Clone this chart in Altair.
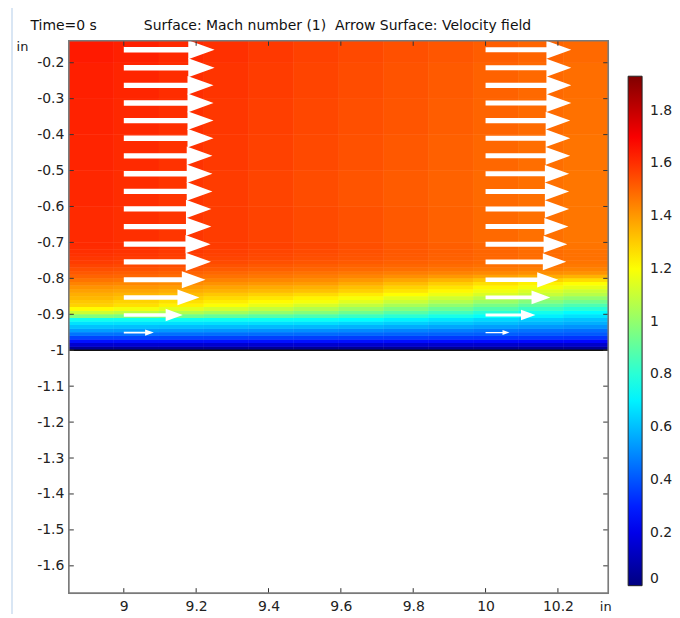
import altair as alt
import pandas as pd

# ---------------- data ----------------
x_edges = [8.848, 8.972, 9.097, 9.221, 9.345, 9.469, 9.594, 9.718, 9.842,
           9.966, 10.091, 10.215, 10.339]
y_edges = [-1.00, -0.99, -0.98, -0.97, -0.96, -0.95, -0.94, -0.93, -0.92, -0.91,
           -0.90, -0.89, -0.88, -0.87, -0.86, -0.85, -0.84, -0.83, -0.82, -0.81,
           -0.80, -0.79, -0.78, -0.77, -0.76, -0.75, -0.74, -0.73, -0.72, -0.71,
           -0.70, -0.60, -0.50, -0.40, -0.30, -0.20, -0.139]
# Mach number per cell, rows from the wall (bottom) upward, columns left -> right
mach_rows = [
    [.03, .03, .03, .03, .03, .03, .03, .03, .03, .03, .03, .03],
    [.15, .15, .15, .15, .15, .15, .149, .147, .145, .143, .141, .14],
    [.27, .27, .27, .27, .27, .27, .267, .264, .26, .256, .253, .25],
    [.37, .369, .367, .365, .363, .361, .357, .354, .35, .346, .343, .34],
    [.46, .457, .453, .449, .445, .441, .436, .431, .425, .42, .414, .41],
    [.54, .536, .53, .524, .518, .512, .502, .491, .481, .469, .458, .45],
    [.61, .607, .603, .599, .595, .591, .581, .568, .556, .542, .53, .52],
    [.67, .669, .667, .665, .663, .661, .648, .632, .616, .599, .583, .57],
    [.75, .749, .747, .745, .743, .741, .723, .70, .676, .652, .628, .61],
    [.97, .954, .932, .911, .889, .867, .835, .801, .767, .731, .697, .67],
    [1.11, 1.089, 1.061, 1.034, 1.006, .978, .938, .893, .848, .80, .755, .72],
    [1.21, 1.186, 1.154, 1.124, 1.092, 1.06, 1.018, .973, .928, .88, .835, .80],
    [1.29, 1.265, 1.231, 1.198, 1.164, 1.13, 1.088, 1.043, .998, .95, .905, .87],
    [1.31, 1.29, 1.265, 1.24, 1.214, 1.188, 1.149, 1.106, 1.062, 1.017, .974, .94],
    [1.34, 1.322, 1.298, 1.275, 1.251, 1.227, 1.191, 1.152, 1.112, 1.07, 1.031, 1.00],
    [1.36, 1.347, 1.329, 1.311, 1.293, 1.275, 1.244, 1.208, 1.172, 1.134, 1.098, 1.07],
    [1.385, 1.375, 1.362, 1.35, 1.337, 1.324, 1.293, 1.255, 1.217, 1.177, 1.139, 1.11],
    [1.41, 1.401, 1.389, 1.378, 1.366, 1.354, 1.325, 1.291, 1.257, 1.221, 1.187, 1.16],
    [1.44, 1.433, 1.423, 1.413, 1.403, 1.393, 1.366, 1.333, 1.299, 1.264, 1.231, 1.205],
    [1.47, 1.463, 1.453, 1.443, 1.433, 1.423, 1.401, 1.374, 1.347, 1.318, 1.291, 1.27],
    [1.50, 1.493, 1.483, 1.473, 1.463, 1.453, 1.437, 1.419, 1.401, 1.382, 1.364, 1.35],
    [1.52, 1.513, 1.503, 1.493, 1.483, 1.473, 1.462, 1.451, 1.441, 1.429, 1.418, 1.41],
    [1.54, 1.533, 1.524, 1.516, 1.507, 1.498, 1.488, 1.478, 1.468, 1.458, 1.448, 1.44],
    [1.56, 1.553, 1.543, 1.533, 1.523, 1.513, 1.504, 1.495, 1.486, 1.476, 1.467, 1.46],
    [1.575, 1.568, 1.558, 1.548, 1.538, 1.528, 1.518, 1.508, 1.498, 1.488, 1.478, 1.47],
    [1.585, 1.578, 1.568, 1.558, 1.548, 1.538, 1.527, 1.516, 1.506, 1.494, 1.483, 1.475],
    [1.595, 1.587, 1.576, 1.565, 1.554, 1.543, 1.532, 1.52, 1.508, 1.496, 1.484, 1.475],
    [1.60, 1.592, 1.581, 1.57, 1.559, 1.548, 1.536, 1.523, 1.511, 1.497, 1.485, 1.475],
    [1.605, 1.597, 1.586, 1.575, 1.564, 1.553, 1.54, 1.525, 1.511, 1.496, 1.481, 1.47],
    [1.61, 1.601, 1.589, 1.578, 1.566, 1.554, 1.54, 1.525, 1.511, 1.496, 1.481, 1.47],
    [1.61, 1.60, 1.587, 1.575, 1.562, 1.549, 1.535, 1.52, 1.506, 1.491, 1.476, 1.465],
    [1.615, 1.604, 1.589, 1.575, 1.56, 1.545, 1.53, 1.517, 1.503, 1.489, 1.476, 1.465],
    [1.62, 1.609, 1.594, 1.58, 1.565, 1.55, 1.535, 1.522, 1.508, 1.494, 1.481, 1.47],
    [1.625, 1.614, 1.599, 1.585, 1.57, 1.555, 1.54, 1.527, 1.513, 1.499, 1.486, 1.475],
    [1.63, 1.619, 1.604, 1.59, 1.575, 1.56, 1.545, 1.532, 1.518, 1.504, 1.491, 1.48],
    [1.64, 1.628, 1.612, 1.597, 1.581, 1.565, 1.551, 1.538, 1.526, 1.512, 1.50, 1.49],
]

arrow_x0 = [9.0, 10.0]
arrow_y = [-0.951, -0.902, -0.853, -0.804, -0.754, -0.705, -0.656, -0.607, -0.558,
           -0.509, -0.459, -0.410, -0.361, -0.312, -0.263, -0.214, -0.164]
arrow_len_left = [0.083, 0.163, 0.209, 0.226, 0.241, 0.240, 0.242, 0.242, 0.245,
                  0.245, 0.245, 0.248, 0.248, 0.248, 0.248, 0.251, 0.251]
arrow_len_right = [0.066, 0.138, 0.179, 0.201, 0.223, 0.226, 0.229, 0.231, 0.231,
                   0.231, 0.234, 0.234, 0.234, 0.237, 0.237, 0.237, 0.237]

wall_y = [-1.0]
x_ticks = [9.0, 9.2, 9.4, 9.6, 9.8, 10.0, 10.2]
y_ticks = [-0.2, -0.3, -0.4, -0.5, -0.6, -0.7, -0.8, -0.9, -1.0, -1.1, -1.2,
           -1.3, -1.4, -1.5, -1.6]
cbar_ticks = [0, 0.2, 0.4, 0.6, 0.8, 1.0, 1.2, 1.4, 1.6, 1.8]
x_domain = [8.848, 10.339]
y_domain = [-1.676, -0.139]
mach_range = [0.0, 1.93]
title_text = ["Surface: Mach number (1)\u00a0 Arrow Surface: Velocity field"]
time_text = ["Time=0 s"]

# ---------------- layout / style ----------------
W, H = 541, 554
FONT = "DejaVu Sans"
FS = 14
px_per_in = W / (x_domain[1] - x_domain[0])

jet_stops = [mach_range[0] + f * (mach_range[1] - mach_range[0])
             for f in (0.0, 0.125, 0.375, 0.625, 0.875, 1.0)]
jet_colors = ["#000080", "#0000ff", "#00ffff", "#ffff00", "#ff0000", "#800000"]

# ---------------- tables ----------------
cells = []
for j, row in enumerate(mach_rows):
    for i, m in enumerate(row):
        cells.append({"x0": x_edges[i], "x1": x_edges[i + 1],
                      "y0": y_edges[j], "y1": y_edges[j + 1], "mach": m})
cells = pd.DataFrame(cells)

arrows = []
for x0, lens in zip(arrow_x0, [arrow_len_left, arrow_len_right]):
    for y, L in zip(arrow_y, lens):
        arrows.append({"xc": x0 + L / 2, "y": y, "s": (L * px_per_in) ** 2})
arrows = pd.DataFrame(arrows)

xt = pd.DataFrame({"v": x_ticks})
yt = pd.DataFrame({"v": y_ticks})
wall = pd.DataFrame({"y": wall_y, "xa": [x_domain[0]], "xb": [x_domain[1]]})
one = pd.DataFrame({"t": time_text})
ttl = pd.DataFrame({"t": title_text})

xs = alt.Scale(domain=x_domain, nice=False, zero=False)
ys = alt.Scale(domain=y_domain, nice=False, zero=False)
cs = alt.Scale(domain=jet_stops, range=jet_colors, interpolate="rgb")

lab_expr = "replace(format(datum.value, '.1~f'), '\u2212', '-')"

x_axis = alt.Axis(values=x_ticks, ticks=False, domain=False, grid=False,
                  labelPadding=6, labelFont=FONT, labelFontSize=FS,
                  labelColor="#222", labelExpr=lab_expr, labelOverlap=False,
                  labelFlush=False, title="in", titleX=538, titleY=13,
                  titleAngle=0, titleAlign="center", titleBaseline="middle",
                  titleFont=FONT, titleFontSize=FS - 1, titleFontWeight="normal",
                  titleColor="#222")
y_axis = alt.Axis(values=y_ticks, ticks=False, domain=False, grid=False,
                  labelPadding=5, labelFont=FONT, labelFontSize=FS,
                  labelColor="#222", labelExpr=lab_expr, labelOverlap=False,
                  labelFlush=False, title="in", titleX=-47, titleY=6,
                  titleAngle=0, titleAlign="center", titleBaseline="middle",
                  titleFont=FONT, titleFontSize=FS - 1, titleFontWeight="normal",
                  titleColor="#222")

legend = alt.Legend(
    type="gradient", orient="none", legendX=561, legendY=35.5,
    direction="vertical", gradientLength=511, gradientThickness=14,
    values=cbar_ticks, title=None, labelFont=FONT, labelFontSize=FS,
    labelColor="#222", labelOffset=8, labelOverlap=False, labelExpr=lab_expr,
    gradientStrokeColor="#222", gradientStrokeWidth=1)

field_base = alt.Chart(cells).mark_rect(clip=True).encode(
    x=alt.X("x0:Q", scale=xs, axis=x_axis),
    x2="x1:Q",
    y=alt.Y("y0:Q", scale=ys, axis=y_axis),
    y2="y1:Q",
    color=alt.Color("mach:Q", scale=cs, legend=legend),
)
# drawn twice so that anti-aliasing seams between adjacent cells disappear
field = field_base + field_base

wall_line = alt.Chart(wall).mark_rule(color="#111", strokeWidth=1.6).encode(
    x=alt.X("xa:Q", scale=xs, axis=x_axis), x2="xb:Q",
    y=alt.Y("y:Q", scale=ys, axis=y_axis))

ARROW = "M-1,-0.06L0.42,-0.06L0.42,-0.21L1,0L0.42,0.21L0.42,0.06L-1,0.06Z"
arrow_layer = alt.Chart(arrows).mark_point(
    shape=ARROW, filled=True, color="white", opacity=1, strokeWidth=0).encode(
    x=alt.X("xc:Q", scale=xs, axis=x_axis),
    y=alt.Y("y:Q", scale=ys, axis=y_axis),
    size=alt.Size("s:Q", scale=None, legend=None))

TC = "#333"
tick_b = alt.Chart(xt).mark_rule(color=TC, strokeWidth=1).encode(
    x=alt.X("v:Q", scale=xs, axis=x_axis), y=alt.value(H), y2=alt.value(H - 5))
tick_t = alt.Chart(xt).mark_rule(color=TC, strokeWidth=1).encode(
    x=alt.X("v:Q", scale=xs, axis=x_axis), y=alt.value(0), y2=alt.value(5))
tick_l = alt.Chart(yt).mark_rule(color=TC, strokeWidth=1).encode(
    y=alt.Y("v:Q", scale=ys, axis=y_axis), x=alt.value(0), x2=alt.value(5))
tick_r = alt.Chart(yt).mark_rule(color=TC, strokeWidth=1).encode(
    y=alt.Y("v:Q", scale=ys, axis=y_axis), x=alt.value(W), x2=alt.value(W - 5))

frame = alt.Chart(one).mark_rect(fill="transparent", stroke="#7a7a7a",
                                 strokeWidth=1.6).encode(
    x=alt.value(0), x2=alt.value(W), y=alt.value(0), y2=alt.value(H))

time_txt = alt.Chart(one).mark_text(align="left", baseline="middle",
                                    font=FONT, fontSize=FS, color="#111").encode(
    text="t:N", x=alt.value(30.5 - 69), y=alt.value(25 - 40))

title_txt = alt.Chart(ttl).mark_text(align="center", baseline="middle",
                                     font=FONT, fontSize=FS, color="#111").encode(
    text="t:N", x=alt.value(338.5 - 69), y=alt.value(25 - 40))

side_line = alt.Chart(one).mark_rule(color="#d9e6f4", strokeWidth=2).encode(
    x=alt.value(12 - 69), y=alt.value(7 - 40), y2=alt.value(620 - 40))

chart = alt.layer(
    field, wall_line, arrow_layer, tick_b, tick_t, tick_l, tick_r, frame,
    time_txt, title_txt, side_line,
).properties(
    width=W, height=H,
    padding={"left": 61, "top": 32, "right": 64, "bottom": 20},
    autosize=alt.AutoSizeParams(type="none"),
).configure_view(strokeWidth=0).configure(background="white")

chart.save("out.html", embed_options={"renderer": "svg", "actions": False})
